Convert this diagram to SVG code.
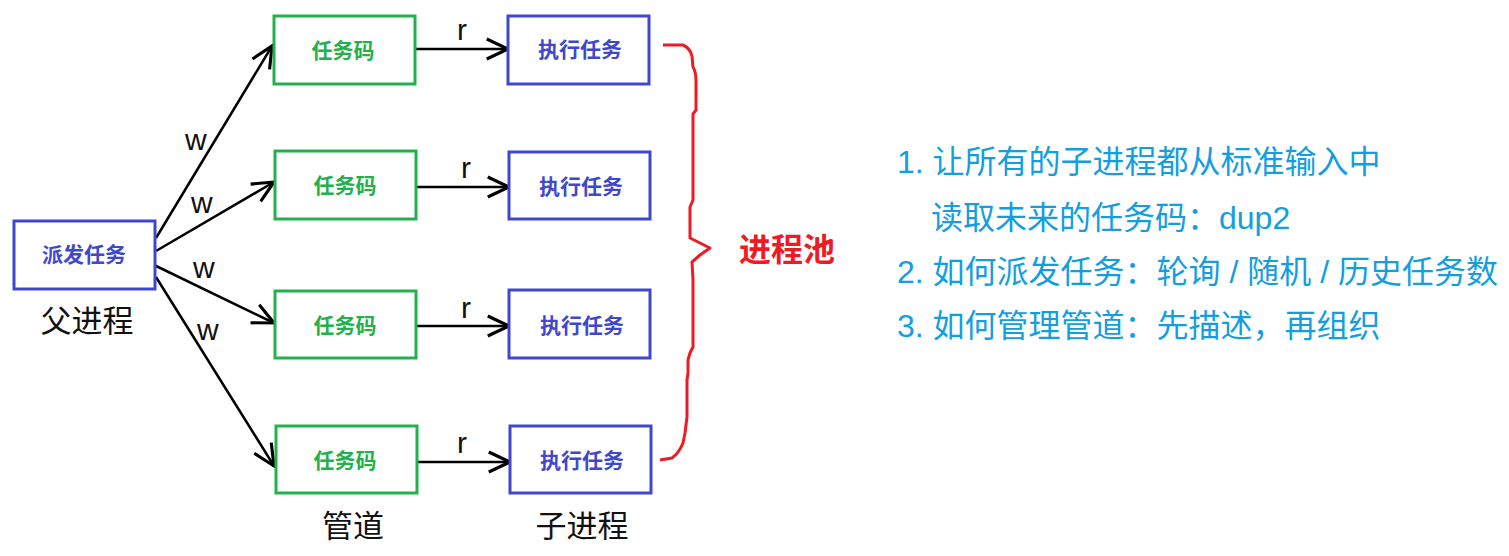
<svg xmlns="http://www.w3.org/2000/svg" width="1509" height="556" viewBox="0 0 1509 556">
<style>
.g{fill:#fff;stroke:#22b14c;stroke-width:3}
.b{fill:#fff;stroke:#3f48cc;stroke-width:3}
.gt{font:bold 21px "Liberation Sans","Noto Sans CJK SC",sans-serif;fill:#22b14c;text-anchor:middle}
.bt{font:bold 21px "Liberation Sans","Noto Sans CJK SC",sans-serif;fill:#3f48cc;text-anchor:middle}
.lbl{font:30px "Liberation Sans","Noto Sans CJK SC",sans-serif;fill:#111}
.cap{font:31px "Liberation Sans","Noto Sans CJK SC",sans-serif;fill:#111;text-anchor:middle}
.note{font:32px "Liberation Sans","Noto Sans CJK SC",sans-serif;fill:#139ee0}
.ln{stroke:#000;stroke-width:2.5;fill:none;marker-end:url(#ah)}
</style>
<defs>
<marker id="ah" markerUnits="userSpaceOnUse" markerWidth="30" markerHeight="30" viewBox="-20 -12 24 24" refX="0" refY="0" orient="auto">
<path d="M-17,-8 L0,0 L-17,8" fill="none" stroke="#000" stroke-width="2.5"/>
</marker>
</defs>
<rect width="1509" height="556" fill="#fff"/>
<g id="connectors">
<line class="ln" x1="156" y1="238" x2="272" y2="46"/>
<line class="ln" x1="156" y1="251" x2="274" y2="182"/>
<line class="ln" x1="154" y1="265" x2="274" y2="323"/>
<line class="ln" x1="156" y1="277" x2="274" y2="466"/>
<line class="ln" x1="416" y1="49" x2="508" y2="49"/>
<line class="ln" x1="417" y1="187" x2="509" y2="187"/>
<line class="ln" x1="417" y1="326" x2="509" y2="326"/>
<line class="ln" x1="418" y1="462" x2="510" y2="462"/>
<text class="lbl" x="185" y="150">w</text>
<text class="lbl" x="191" y="213">w</text>
<text class="lbl" x="193" y="278">w</text>
<text class="lbl" x="197" y="340">w</text>
<text class="lbl" x="457" y="40">r</text>
<text class="lbl" x="461" y="178">r</text>
<text class="lbl" x="461" y="318">r</text>
<text class="lbl" x="457" y="453">r</text>
</g>
<g id="parent">
<rect class="b" x="14" y="221" width="141" height="68"/>
<text class="bt" x="84" y="262">派发任务</text>
<text class="cap" x="87" y="332">父进程</text>
</g>
<g id="pipe1"><rect class="g" x="274" y="16" width="141" height="68"/><text class="gt" x="343" y="58">任务码</text></g>
<g id="pipe2"><rect class="g" x="275" y="151" width="141" height="68"/><text class="gt" x="345" y="193">任务码</text></g>
<g id="pipe3"><rect class="g" x="275" y="291" width="141" height="67"/><text class="gt" x="345" y="333">任务码</text></g>
<g id="pipe4"><rect class="g" x="276" y="426" width="141" height="67"/><text class="gt" x="345" y="468">任务码</text></g>
<g id="child1"><rect class="b" x="508" y="16" width="141" height="68"/><text class="bt" x="580" y="57">执行任务</text></g>
<g id="child2"><rect class="b" x="509" y="152" width="141" height="67"/><text class="bt" x="581" y="194">执行任务</text></g>
<g id="child3"><rect class="b" x="509" y="290" width="141" height="68"/><text class="bt" x="582" y="333">执行任务</text></g>
<g id="child4"><rect class="b" x="510" y="426" width="141" height="67"/><text class="bt" x="582" y="468">执行任务</text></g>
<text class="cap" x="353" y="537">管道</text>
<text class="cap" x="582" y="537">子进程</text>
<g id="pool">
<path d="M663,45 L683,45 Q690,48 692,56 L693,67 Q696,72 696,80 L696,110 L693,114 L693,200 L690,207 L690,238 L698,242 L710,248 L700,255 L692,262 L693,280 L693,347 L690,353 L688,360 L688,373 L687,380 L687,417 L685,433 L683,443 Q679,453 672,458 L660,460" fill="none" stroke="#ed1c24" stroke-width="3" stroke-linejoin="round"/>
<text x="739" y="261" style="font:bold 32px 'Liberation Sans','Noto Sans CJK SC',sans-serif;fill:#ed1c24">进程池</text>
</g>
<g id="notes">
<text class="note" x="897" y="173">1. 让所有的子进程都从标准输入中</text>
<text class="note" x="931" y="229">读取未来的任务码：dup2</text>
<text class="note" x="897" y="283">2. 如何派发任务：轮询 / 随机 / 历史任务数</text>
<text class="note" x="897" y="337">3. 如何管理管道：先描述，再组织</text>
</g>
</svg>
